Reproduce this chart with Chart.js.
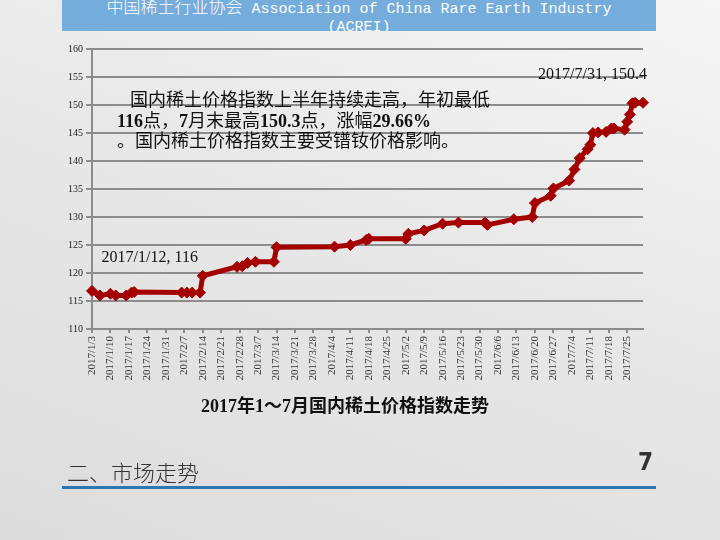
<!DOCTYPE html>
<html>
<head>
<meta charset="utf-8">
<script src="https://cdn.jsdelivr.net/npm/chart.js@4.4.0/dist/chart.umd.min.js"></script>
<style>
html, body { margin: 0; padding: 0; }
body {
  width: 720px; height: 540px; overflow: hidden; position: relative;
  background: linear-gradient(200deg, #f6f6f6 0%, #e9e9e9 40%, #dcdcdc 100%);
  font-family: "Liberation Serif", "Noto Sans CJK SC", serif;
}
#wrap { position: absolute; left: 0; top: 0; width: 720px; height: 540px; }
.header {
  position: absolute; left: 62px; top: 0; width: 594px; height: 31px;
  background: #74acdc; overflow: hidden; color: #fff; text-align: center;
  font-family: "Liberation Mono", "Noto Sans CJK SC", monospace; font-size: 15px; line-height: 22px;
}
.header div { position: absolute; left: 0; width: 594px; height: 22px; }
.header .h1 { top: -5px; }
.header .h2 { top: 17px; }
.header span { font-family: "Noto Sans CJK SC"; font-size: 17px; font-weight: 300; line-height: 22px; }
.note {
  position: absolute; left: 117px; top: 90px; color: #111;
  font-size: 18px; line-height: 20.5px; white-space: nowrap;
}
.note .l1 { padding-left: 13px; }
.note b { font-family: "Liberation Serif"; }
.title {
  position: absolute; left: 0; width: 690px; top: 391px; text-align: center;
  font-weight: bold; font-size: 18px; color: #111;
}
.section {
  position: absolute; left: 67px; top: 455px; font-family: "Noto Sans CJK SC";
  font-weight: 300; font-size: 22px; color: #333;
}
.page {
  position: absolute; left: 638px; top: 448px; font-family: "DejaVu Sans Condensed", sans-serif;
  font-weight: bold; font-size: 24px; color: #333;
}
.rule { position: absolute; left: 62px; top: 486px; width: 594px; height: 3px; background: #2e75b6; }
</style>
</head>
<body>
<div class="header"><div class="h1"><span>中国稀土行业协会</span> Association of China Rare Earth Industry</div><div class="h2">(ACREI)</div></div>
<div id="wrap"><canvas id="mycanvas"></canvas></div>
<div class="note"><span class="l1">国内稀土价格指数上半年持续走高，年初最低</span><br><b>116</b>点，<b>7</b>月末最高<b>150.3</b>点，涨幅<b>29.66%</b><br>。国内稀土价格指数主要受镨钕价格影响。</div>
<div class="title">2017年1～7月国内稀土价格指数走势</div>
<div class="section">二、市场走势</div>
<div class="page">7</div>
<div class="rule"></div>
<script>
var dates = ['2017/1/3','2017/1/6','2017/1/10','2017/1/12','2017/1/16','2017/1/18','2017/1/19',
  '2017/2/6','2017/2/8','2017/2/10','2017/2/13','2017/2/14','2017/2/27',
  '2017/3/1','2017/3/3','2017/3/6','2017/3/13','2017/3/14',
  '2017/4/5','2017/4/11','2017/4/17','2017/4/18',
  '2017/5/2','2017/5/3','2017/5/9','2017/5/16','2017/5/22',
  '2017/6/1','2017/6/2','2017/6/12','2017/6/19','2017/6/20','2017/6/26','2017/6/27',
  '2017/7/3','2017/7/5','2017/7/7','2017/7/10','2017/7/11','2017/7/12','2017/7/14','2017/7/17',
  '2017/7/19','2017/7/20','2017/7/24','2017/7/25','2017/7/26','2017/7/27','2017/7/28','2017/7/31'];
var values = [116.8,116.0,116.3,116,116.0,116.5,116.6,
  116.5,116.5,116.5,116.5,119.5,121.1,
  121.2,121.8,122.0,122.0,124.6,
  124.7,125.0,125.9,126.1,
  126.1,127.0,127.6,128.8,129.0,
  129.0,128.6,129.6,130.0,132.5,133.8,135.1,
  136.5,138.5,140.5,142.1,142.9,145.0,145.1,145.2,
  145.8,145.8,145.6,147.0,148.3,150.3,150.4,150.4];
var tickLabels = ['2017/1/3','2017/1/10','2017/1/17','2017/1/24','2017/1/31','2017/2/7','2017/2/14',
  '2017/2/21','2017/2/28','2017/3/7','2017/3/14','2017/3/21','2017/3/28','2017/4/4','2017/4/11',
  '2017/4/18','2017/4/25','2017/5/2','2017/5/9','2017/5/16','2017/5/23','2017/5/30','2017/6/6',
  '2017/6/13','2017/6/20','2017/6/27','2017/7/4','2017/7/11','2017/7/18','2017/7/25'];
var labelled = ['2017/1/12', '2017/7/31'];

function dayOf(s) {
  var p = s.split('/');
  return (Date.UTC(+p[0], +p[1] - 1, +p[2]) - Date.UTC(2017, 0, 3)) / 86400000;
}

var points = [];
for (var i = 0; i < dates.length; i++) {
  points.push({x: dayOf(dates[i]), y: values[i]});
}

// data labels next to the low and the last point
var pointLabels = {
  id: 'pointLabels',
  afterDatasetsDraw: function(chart) {
    var ctx = chart.ctx;
    var meta = chart.getDatasetMeta(0);
    ctx.save();
    ctx.font = '16px "Liberation Serif"';
    ctx.fillStyle = '#111';
    ctx.textBaseline = 'middle';
    labelled.forEach(function(d, k) {
      var i = dates.indexOf(d);
      var el = meta.data[i];
      var txt = dates[i] + ', ' + values[i];
      if (k == 0) {
        ctx.textAlign = 'center';
        ctx.fillText(txt, el.x + 34, el.y - 38);
      } else {
        ctx.textAlign = 'right';
        ctx.fillText(txt, el.x + 4, el.y - 28);
      }
    });
    ctx.restore();
  }
};

var gridCol = '#8c8c8c';
var ctx = document.getElementById('mycanvas').getContext('2d');
var chart = new Chart(ctx, {
  type: 'line',
  data: {
    datasets: [{
      label: '价格指数',
      data: points,
      borderColor: '#a50000',
      backgroundColor: '#a50000',
      borderWidth: 5,
      pointStyle: 'rectRot',
      pointRadius: 5.5,
      pointBorderWidth: 1,
      tension: 0,
      clip: false
    }]
  },
  options: {
    responsive: true,
    maintainAspectRatio: false,
    animation: false,
    layout: { padding: { left: 0, top: 49, right: 77, bottom: 151 } },
    plugins: { legend: { display: false }, tooltip: { enabled: false } },
    scales: {
      x: {
        type: 'linear',
        min: 0,
        max: dayOf('2017/7/31'),
        afterFit: function(s) { s.height = 60; },
        afterBuildTicks: function(s) {
          s.ticks = tickLabels.map(function(t) { return {value: dayOf(t)}; });
        },
        ticks: {
          autoSkip: false, minRotation: 90, maxRotation: 90,
          font: { family: 'Liberation Serif', size: 11 }, color: '#333',
          callback: function(v) {
            for (var j = 0; j < tickLabels.length; j++) if (dayOf(tickLabels[j]) == v) return tickLabels[j];
            return '';
          }
        },
        grid: { drawOnChartArea: false, drawTicks: true, tickLength: 4, color: gridCol, lineWidth: 2 },
        border: { display: true, color: gridCol, width: 2 }
      },
      y: {
        min: 110,
        max: 160,
        afterFit: function(s) { s.width = 92; },
        ticks: { stepSize: 5, font: { family: 'Liberation Serif', size: 10 }, color: '#222', padding: 3 },
        grid: { color: gridCol, lineWidth: 2, tickLength: 6 },
        border: { display: true, color: gridCol, width: 2 }
      }
    }
  },
  plugins: [pointLabels]
});
</script>
</body>
</html>
